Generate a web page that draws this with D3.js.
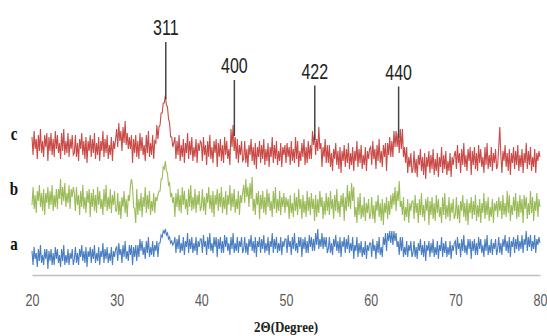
<!DOCTYPE html>
<html><head><meta charset="utf-8">
<script src="https://cdn.jsdelivr.net/npm/d3@7/dist/d3.min.js"></script>
<style>html,body{margin:0;padding:0;background:#fff;}svg{display:block;}</style>
</head><body>
<script>
// 2θ range of the scans: 20° to 80°, evenly sampled
const angleStart = 20, angleEnd = 80;
const seriesNames = ["c", "b", "a"];
const seriesColors = ["#C94A47", "#9BBB59", "#4A7EC2"];
// sample c (top, red)
const seriesC = [
69,60,72,63,68,58,70,62,73,61,67,59,70,64,71,57,69,62,71,60,68,59,72,63,70,61,66,58,71,62,73,60,67,61,71,59,68,63,70,60,
61,70,59,66,57,68,63,71,60,67,58,69,56,67,62,70,59,68,61,71,58,66,60,69,57,67,62,72,59,68,61,70,58,65,60,69,57,67,63,68,
73,64,76,67,72,62,74,66,77,65,71,63,69,63,70,56,68,61,70,59,67,58,71,62,69,60,65,57,70,61,72,59,66,60,70,58,67,66,75,68,
74,75,81,81,86,86,90,85,84,78,76,69,69,64,66,69,58,67,60,70,57,65,59,68,56,66,61,71,58,67,60,69,57,64,59,68,56,66,62,67,
66,57,69,60,65,55,67,59,70,58,64,56,67,61,68,54,66,59,68,57,65,56,69,60,67,58,63,55,73,64,75,62,69,58,68,56,65,60,67,57,
58,67,56,63,54,65,60,68,57,64,55,66,53,64,59,67,56,65,58,68,55,63,57,66,54,64,59,69,56,65,58,67,55,62,57,66,54,64,60,65,
56,66,59,64,55,67,57,63,56,69,58,67,54,62,57,66,59,68,55,64,56,67,58,65,58,72,65,71,60,68,62,74,63,66,54,64,59,68,56,65,
56,65,54,61,52,63,58,66,55,62,53,64,51,62,57,65,54,63,56,66,53,61,55,64,52,62,57,67,54,63,56,65,53,60,55,64,52,62,58,63,
64,55,67,58,63,53,65,57,68,56,62,54,65,59,66,52,66,60,69,59,67,59,72,64,72,64,71,61,73,63,73,59,64,56,64,51,59,54,61,51,
53,62,51,58,49,60,55,63,52,59,50,61,48,59,54,62,51,60,53,63,50,58,52,61,49,59,54,64,51,60,53,62,50,57,52,61,49,59,55,60,
62,53,65,56,61,51,63,55,66,54,60,52,63,57,64,50,62,55,64,53,61,52,65,56,63,54,59,51,64,55,66,53,60,54,64,52,61,56,63,53,
55,64,74,60,51,62,57,65,54,61,52,63,50,61,56,64,53,62,55,65,52,60,54,63,51,61,56,66,53,62,55,64,52,59,54,63,51,61,57,62,
59];
// sample b (middle, green)
const seriesB = [
35,44,33,40,31,42,37,45,34,41,32,43,30,41,36,44,33,42,35,45,32,40,34,43,33,43,38,48,35,44,37,46,34,41,36,45,33,43,39,44,
41,32,44,35,40,30,42,34,45,33,39,31,42,36,43,29,41,34,43,32,40,31,44,35,42,33,38,30,43,34,45,32,39,33,43,31,40,35,42,32,
32,41,30,37,28,39,34,42,31,38,29,40,37,45,48,44,34,33,26,43,30,38,32,41,29,39,34,44,31,40,33,42,30,37,32,41,31,39,37,40,
42,42,48,48,54,53,57,52,51,45,46,39,41,36,39,29,41,34,43,32,40,31,44,35,42,33,38,30,43,34,45,32,39,33,43,31,40,35,42,32,
34,43,32,39,30,41,36,44,33,40,31,42,29,40,35,43,32,41,34,44,31,39,33,42,30,40,35,45,32,41,34,43,31,38,33,42,30,40,36,41,
45,36,48,39,44,34,46,38,49,32,38,30,41,35,42,28,40,33,42,31,39,30,43,34,41,32,37,29,42,33,44,31,38,32,42,30,39,34,41,31,
39,34,38,28,40,31,36,29,41,32,39,30,43,33,38,28,40,31,37,29,42,32,39,30,41,33,38,27,40,29,38,31,42,34,39,28,37,30,41,32,
39,30,42,33,38,28,40,32,43,31,37,29,40,34,41,27,39,32,45,34,42,33,46,37,44,29,34,26,39,30,41,28,35,29,39,27,36,31,38,28,
30,39,28,35,26,37,32,40,29,36,27,38,25,36,31,39,28,37,30,40,33,41,35,44,32,42,37,47,34,37,30,39,27,34,29,38,26,36,32,37,
37,28,40,31,36,26,38,30,41,29,35,27,38,32,39,25,37,30,39,28,36,27,40,31,38,29,34,26,39,30,41,28,35,29,39,27,36,31,38,28,
30,39,28,35,26,37,32,40,29,36,27,38,25,36,31,39,28,37,30,40,27,35,29,38,26,36,31,41,28,37,30,39,27,34,29,38,26,36,32,37,
29,39,32,37,28,40,30,36,29,42,31,40,27,35,30,39,32,41,28,37,29,40,31,38,26,40,33,39,28,36,30,42,31,39,27,37,32,41,29,38,
34];
// sample a (bottom, blue)
const seriesA = [
12,5,14,8,11,4,13,7,15,6,10,5,13,8,13,3,12,7,13,5,11,5,14,8,13,6,10,4,13,7,15,5,10,6,13,5,11,8,13,5,
8,14,6,11,5,13,9,15,7,12,6,14,4,12,9,14,6,13,8,15,6,11,7,14,5,12,9,16,6,13,8,14,6,11,7,14,5,12,9,13,
14,7,16,10,13,6,15,9,17,8,12,7,15,10,15,5,14,9,15,7,15,9,18,12,17,10,14,8,17,11,19,9,14,10,17,9,15,12,17,9,
16,16,20,19,22,21,23,20,21,18,19,16,17,15,16,19,11,18,13,20,11,16,12,19,10,17,14,21,11,18,13,19,11,16,12,19,10,17,14,18,
18,11,20,14,17,10,19,13,21,12,16,11,19,14,19,9,18,13,19,11,17,11,20,14,19,12,16,10,19,13,21,11,16,12,19,11,17,14,19,11,
13,19,11,16,10,18,14,20,12,17,11,19,9,17,14,19,11,18,13,20,11,16,12,19,10,17,14,21,11,18,13,19,11,16,12,19,10,17,14,18,
18,11,20,14,17,10,19,13,21,12,16,11,19,14,19,9,18,13,19,11,17,11,20,14,19,12,18,12,21,15,23,13,18,14,21,13,19,14,19,11,
13,19,11,16,10,18,14,20,12,17,11,19,9,17,14,19,11,18,13,20,11,16,12,19,8,15,12,19,9,16,11,17,9,14,10,17,8,15,12,16,
16,9,18,12,15,8,17,11,19,10,14,9,19,15,21,12,21,17,22,16,22,15,22,17,21,14,17,10,19,12,19,9,14,10,17,9,15,12,17,9,
11,17,9,14,8,16,12,18,10,15,9,17,7,15,12,17,9,16,11,18,9,14,10,17,8,15,12,19,9,16,11,17,9,14,10,17,8,15,12,16,
17,10,19,13,16,9,18,12,20,11,15,10,18,13,18,8,17,12,18,10,16,10,19,13,18,11,15,9,18,12,20,10,15,11,18,10,16,13,18,10,
13,19,11,16,10,18,14,20,12,17,11,19,9,17,14,19,11,18,13,20,12,17,13,20,11,18,15,22,12,19,14,20,12,17,13,20,11,18,15,19,
16];
// label intensity for each series name
const seriesLabelI = [70, 42.5, 15];
// peak markers (hkl)
const peakAngles = [35.8, 43.9, 53.4, 63.3];
const peakLabels = ["311", "400", "422", "440"];
const peakTopI = [116.5, 97.5, 94.75, 94.25];
const peakBottomI = [88, 69.5, 67.5, 68.5];
const xTicks = [20, 30, 40, 50, 60, 70, 80];
const xTitle = "2\u0398(Degree)";

const W = 547, H = 336;
const svg = d3.select("body").append("svg").attr("width", W).attr("height", H);
const x = d3.scaleLinear().domain([angleStart, angleEnd]).range([32, 540]);
const y = d3.scaleLinear().domain([0, 100]).range([275, 75]);

const allSeries = [seriesC, seriesB, seriesA];
const angleOf = (i, n) => angleStart + i * (angleEnd - angleStart) / (n - 1);

svg.selectAll("path.trace").data(allSeries).join("path")
  .attr("class", "trace")
  .attr("d", s => d3.line().x((d, i) => x(angleOf(i, s.length))).y(d => y(d))(s))
  .attr("fill", "none")
  .attr("stroke", (d, i) => seriesColors[i])
  .attr("stroke-width", 1.1)
  .attr("stroke-linejoin", "miter");

// axis
const axis = d3.axisBottom(x).tickValues(xTicks).tickSize(0).tickSizeOuter(0).tickPadding(0);
const gx = svg.append("g").attr("transform", "translate(0,275)").call(axis);
gx.select(".domain").attr("stroke", "#bfbfbf").attr("stroke-width", 1.5);
gx.selectAll("text")
  .attr("y", null).attr("dy", null)
  .attr("transform", "translate(0,31) scale(1,1.3)")
  .attr("font-family", "Liberation Sans, Arial, sans-serif")
  .attr("font-size", 12.5)
  .attr("fill", "#595959");

// axis title
svg.append("text")
  .attr("transform", `translate(${(x(angleStart) + x(angleEnd)) / 2},332) scale(1,1.1)`)
  .attr("text-anchor", "middle")
  .attr("font-family", "Liberation Serif, Times New Roman, serif")
  .attr("font-weight", "bold")
  .attr("font-size", 13)
  .attr("fill", "#222")
  .text(xTitle);

// series labels
svg.selectAll("text.slabel").data(seriesNames).join("text")
  .attr("class", "slabel")
  .attr("transform", (d, i) => `translate(14,${y(seriesLabelI[i]) + 5}) scale(1,1.2)`)
  .attr("text-anchor", "middle")
  .attr("font-family", "Liberation Serif, Times New Roman, serif")
  .attr("font-weight", "bold")
  .attr("font-size", 15)
  .attr("fill", "#111")
  .text(d => d);

// peak marker lines and labels
svg.selectAll("line.peak").data(peakAngles).join("line")
  .attr("class", "peak")
  .attr("x1", d => x(d)).attr("x2", d => x(d))
  .attr("y1", (d, i) => y(peakTopI[i])).attr("y2", (d, i) => y(peakBottomI[i]))
  .attr("stroke", "#444").attr("stroke-width", 1.5);

svg.selectAll("text.peak").data(peakLabels).join("text")
  .attr("class", "peak")
  .attr("transform", (d, i) => `translate(${x(peakAngles[i])},${y(peakTopI[i]) - 7}) scale(1,1.4)`)
  .attr("text-anchor", "middle")
  .attr("font-family", "Liberation Sans, Arial, sans-serif")
  .attr("font-size", 16)
  .attr("fill", "#222")
  .text(d => d);
</script>
</body></html>
